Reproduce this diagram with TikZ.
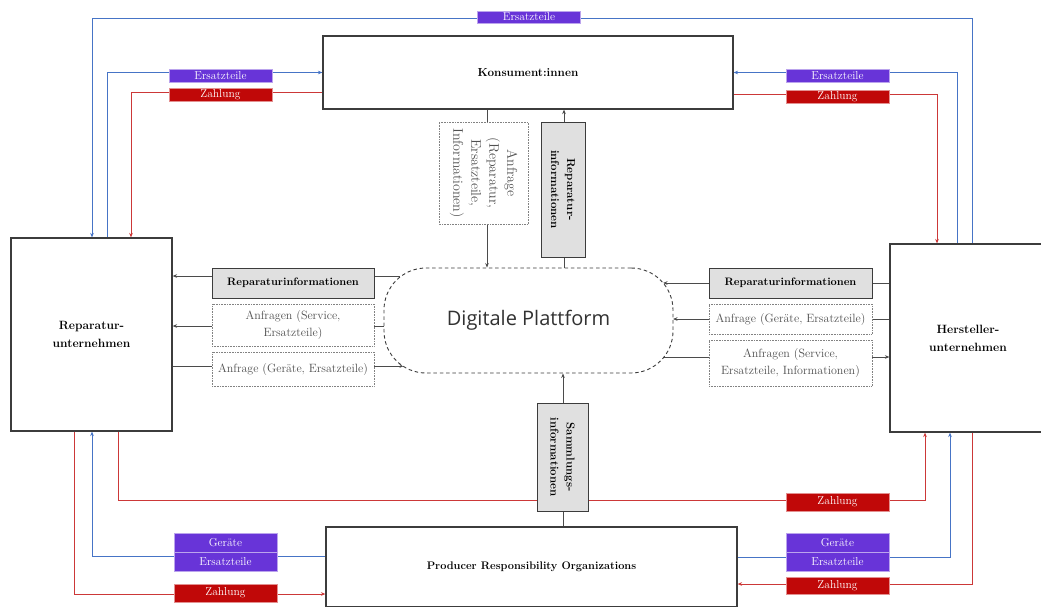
\documentclass[tikz,border=0pt]{standalone}
\usepackage{fontspec}
\newfontfamily\platfont{Open Sans}
\usetikzlibrary{arrows.meta,backgrounds}
\definecolor{boxline}{RGB}{60,60,60}
\definecolor{wire}{RGB}{75,75,75}
\definecolor{infofill}{RGB}{224,224,224}
\definecolor{partsfill}{RGB}{104,52,216}
\definecolor{payfill}{RGB}{192,8,8}
\definecolor{partsline}{RGB}{70,116,198}
\definecolor{payline}{RGB}{204,56,56}
\definecolor{softtext}{RGB}{80,80,80}
\definecolor{dotline}{RGB}{130,130,130}
\newcommand\fsz[2]{\fontsize{#1}{#2}\selectfont}
\pgfdeclarelayer{wires}
\pgfsetlayers{wires,main}
\begin{document}
\begin{tikzpicture}[x=1pt,y=-1pt,
  actor/.style={draw=boxline, line width=1.2pt, fill=white, inner sep=0pt, align=center, font=\fsz{12}{18}\bfseries},
  infobox/.style={draw=boxline, line width=0.9pt, fill=infofill, inner sep=0pt, align=center, font=\fsz{10.8}{16}\bfseries},
  askbox/.style={draw=dotline, line width=0.6pt, dash pattern=on 0.7pt off 0.9pt, fill=white, inner sep=0pt, align=center, text=softtext, font=\fsz{12}{17}},
  partslbl/.style={fill=partsfill, draw=partsfill!45!white, line width=0.6pt, text=white, inner sep=0pt, minimum width=103pt, font=\fsz{11.5}{13}},
  paylbl/.style={fill=payfill, draw=payfill!45!white, line width=0.6pt, text=white, inner sep=0pt, minimum width=103pt, font=\fsz{11.5}{13}},
  tip/.style={-{Stealth[length=4.5pt,width=3.6pt]}},
  flowparts/.style={draw=partsline, line width=1pt},
  flowpay/.style={draw=payline, line width=1pt},
  flowinfo/.style={draw=wire, line width=1pt}]
\useasboundingbox (0,0) rectangle (1041,606);

% main actors
\node[actor, minimum width=410pt, minimum height=73pt, font=\fsz{11.7}{14}\bfseries] (kons) at (528,72.5) {Konsument:innen};
\node[actor, minimum width=161pt, minimum height=193pt] (rep) at (91.5,334.5) {Reparatur-\\unternehmen};
\node[actor, minimum width=156pt, minimum height=188pt] (her) at (968,338) {Hersteller-\\unternehmen};
\node[actor, minimum width=411pt, minimum height=80pt, font=\fsz{11}{14}\bfseries] (pro) at (531.5,567) {Producer Responsibility Organizations};

% platform in the middle
\node[draw=boxline, line width=0.9pt, dash pattern=on 3.5pt off 2.8pt, fill=white,
      rounded corners=42pt, minimum width=289pt, minimum height=105pt, inner sep=0pt,
      text={rgb,255:red,50;green,50;blue,50}, font=\platfont\fsz{20}{24}] (plat) at (528.5,320.5) {Digitale Plattform};

% vertical boxes between consumers, platform and PROs
\node[askbox, rotate=-90, minimum width=102pt, minimum height=89pt, font=\fsz{14}{18}] (anf) at (483.5,173)
  {Anfrage\\(Reparatur,\\Ersatzteile,\\Informationen)};
\node[infobox, rotate=-90, minimum width=135pt, minimum height=44pt, font=\fsz{11.5}{16}\bfseries] (vrep) at (563,189.5)
  {Reparatur-\\informationen};
\node[infobox, rotate=-90, minimum width=108pt, minimum height=51pt, font=\fsz{11.5}{16}\bfseries] (vsam) at (562.5,457)
  {Sammlungs-\\informationen};

% boxes on the left
\node[infobox, minimum width=162pt, minimum height=30pt] (lri) at (293,283) {Reparaturinformationen};
\node[askbox, minimum width=162pt, minimum height=42pt] (las) at (293,325) {Anfragen (Service,\\Ersatzteile)};
\node[askbox, minimum width=162pt, minimum height=34pt] (lag) at (293,369) {Anfrage (Geräte, Ersatzteile)};

% boxes on the right
\node[infobox, minimum width=163pt, minimum height=30pt] (rri) at (790.5,283) {Reparaturinformationen};
\node[askbox, minimum width=163pt, minimum height=30pt] (rag) at (790.5,319) {Anfrage (Geräte, Ersatzteile)};
\node[askbox, minimum width=163pt, minimum height=46pt] (ras) at (790.5,363) {Anfragen (Service,\\Ersatzteile, Informationen)};

% flow labels
\node[partslbl, minimum height=12pt] (ltop) at (529,17) {Ersatzteile};
\node[partslbl, minimum height=13pt] (lpk) at (220.5,75.5) {Ersatzteile};
\node[paylbl, minimum height=13pt] (lzk) at (220.5,94.5) {Zahlung};
\node[partslbl, minimum height=13pt] (rpk) at (837.5,75.5) {Ersatzteile};
\node[paylbl, minimum height=13pt] (rzk) at (837.5,97) {Zahlung};
\node[paylbl, minimum height=18pt] (mzh) at (837.5,502) {Zahlung};
\node[partslbl, minimum height=19pt] (lgp) at (225.5,542.5) {Geräte};
\node[partslbl, minimum height=19pt] (lep) at (225.5,561.5) {Ersatzteile};
\node[paylbl, minimum height=18pt] (lzp) at (225.5,593) {Zahlung};
\node[partslbl, minimum height=19pt] (rgp) at (837.5,542.5) {Geräte};
\node[partslbl, minimum height=19pt] (rep2) at (837.5,561.5) {Ersatzteile};
\node[paylbl, minimum height=17pt] (rzp) at (837.5,585.5) {Zahlung};

% attach points on the platform outline
\coordinate (pl1) at (400,276);
\coordinate (pl2) at (385,326);
\coordinate (pl3) at (404,366);
\coordinate (pr1) at (663,283);
\coordinate (pr2) at (673,319);
\coordinate (pr3) at (664,357);

\begin{pgfonlayer}{wires}
  % spare parts and payments around the consumers
  \draw[flowparts,tip] (her.north -| 972,0) -- (972,18) -- (92,18) -- (rep.north -| 92,0);
  \draw[flowparts,tip] (rep.north -| 107,0) |- (kons.west);
  \draw[flowpay,tip] (kons.west |- 0,92) -| (rep.north -| 131,0);
  \draw[flowparts,tip] (her.north -| 957,0) |- (kons.east);
  \draw[flowpay,tip] (kons.east |- 0,94) -| (her.north -| 937,0);
  % payments and devices around the PROs
  \draw[flowpay,tip] (rep.south -| 118,0) -- (118,500) -| (her.south -| 925,0);
  \draw[flowparts,tip] (pro.west |- 0,556) -| (rep.south -| 92,0);
  \draw[flowpay,tip] (rep.south -| 74,0) |- (pro.west |- 0,594);
  \draw[flowparts,tip] (pro.east |- 0,557) -| (her.south -| 950,0);
  \draw[flowpay,tip] (her.south -| 972,0) |- (pro.east |- 0,584);
  % information flows through the platform
  \draw[flowinfo,tip] (kons.south -| 487,0) -- (plat.north -| 487,0);
  \draw[flowinfo,tip] (plat.north -| 564,0) -- (kons.south -| 564,0);
  \draw[flowinfo,tip] (pro.north -| 563,0) -- (plat.south -| 563,0);
  \draw[flowinfo,tip] (pl1) -- (rep.east |- pl1);
  \draw[flowinfo,tip] (pl2) -- (rep.east |- pl2);
  \draw[flowinfo,tip] (rep.east |- pl3) -- (pl3);
  \draw[flowinfo,tip] (her.west |- pr1) -- (pr1);
  \draw[flowinfo,tip] (her.west |- pr2) -- (pr2);
  \draw[flowinfo,tip] (pr3) -- (her.west |- pr3);
\end{pgfonlayer}
\end{tikzpicture}
\end{document}
